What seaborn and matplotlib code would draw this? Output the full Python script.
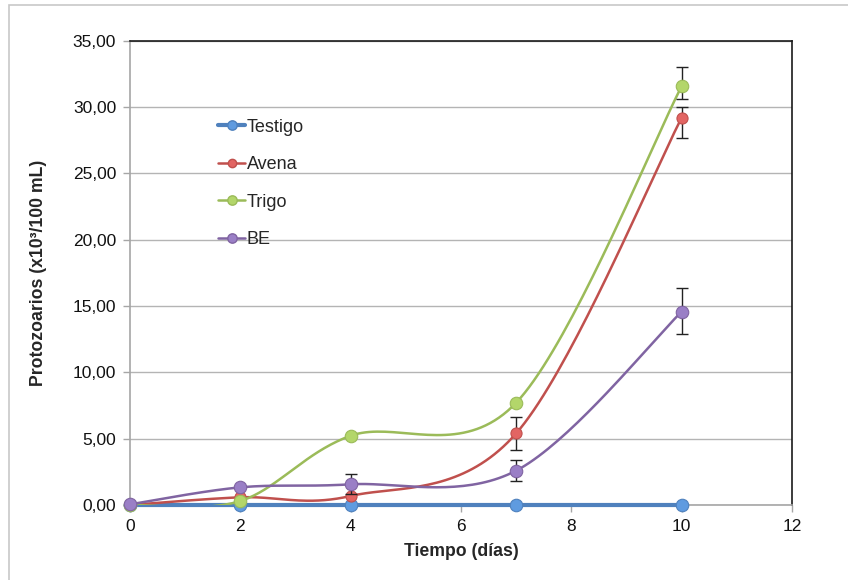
import numpy as np
import pandas as pd
import matplotlib
matplotlib.use("Agg")
import matplotlib.pyplot as plt
import seaborn as sns
from matplotlib.lines import Line2D
from matplotlib.patches import Rectangle
from matplotlib.ticker import FuncFormatter

# Data
dias = [0, 2, 4, 7, 10]
testigo = [0.0, 0.0, 0.0, 0.0, 0.0]
avena = [0.0, 0.58, 0.68, 5.40, 29.19]
trigo = [0.0, 0.30, 5.22, 7.71, 31.57]
be = [0.05, 1.33, 1.56, 2.59, 14.57]

# error bars (lower, upper); zero = no bar
avena_err_lo = [0, 0, 0, 1.25, 1.50]
avena_err_hi = [0, 0, 0, 1.20, 0.80]
trigo_err_lo = [0, 0, 0, 0, 1.00]
trigo_err_hi = [0, 0, 0, 0, 1.43]
be_err_lo = [0, 0, 0.75, 0.78, 1.66]
be_err_hi = [0, 0, 0.75, 0.78, 1.76]

series = ["Testigo", "Avena", "Trigo", "BE"]
valores = [testigo, avena, trigo, be]
err_lo = [None, avena_err_lo, trigo_err_lo, be_err_lo]
err_hi = [None, avena_err_hi, trigo_err_hi, be_err_hi]
line_colors = ["#4F81BD", "#C0504D", "#9BBB59", "#8064A2"]
face_colors = ["#5F9BE0", "#E26563", "#B3D66A", "#9A7FC6"]
line_widths = [3.0, 1.8, 1.8, 1.8]
marker_sizes = [9, 8, 9, 9]


def smooth(xs, ys, n=40):
    # Catmull-Rom style smoothing, like Excel's "smoothed line"
    pts = np.column_stack([xs, ys]).astype(float)
    pts = np.vstack([pts[0], pts, pts[-1]])
    out = []
    t = np.linspace(0, 1, n)
    for i in range(1, len(pts) - 2):
        p0, p1, p2, p3 = pts[i - 1], pts[i], pts[i + 1], pts[i + 2]
        c1 = p1 + (p2 - p0) / 6
        c2 = p2 - (p3 - p1) / 6
        seg = ((1 - t)[:, None] ** 3 * p1 + 3 * ((1 - t) ** 2 * t)[:, None] * c1
               + 3 * ((1 - t) * t ** 2)[:, None] * c2 + (t ** 3)[:, None] * p2)
        out.append(seg if i == 1 else seg[1:])
    out = np.vstack(out)
    return out[:, 0], out[:, 1]


sns.set_style("white")
plt.rcParams["font.family"] = ["Liberation Sans", "DejaVu Sans"]

fig = plt.figure(figsize=(8.48, 5.8), dpi=100)
ax = fig.add_axes([130 / 848, 1 - 505 / 580, (792 - 130) / 848, (505 - 40.7) / 580])

for i, name in enumerate(series):
    sx, sy = smooth(dias, valores[i])
    curve = pd.DataFrame({"x": sx, "y": sy})
    sns.lineplot(data=curve, x="x", y="y", sort=False, estimator=None, ax=ax,
                 color=line_colors[i], linewidth=line_widths[i], zorder=3 + i)
    if name == "Testigo":
        ax.lines[-1].set_clip_on(False)
    if err_lo[i] is not None:
        idx = [k for k in range(len(dias)) if err_lo[i][k] > 0 or err_hi[i][k] > 0]
        ax.errorbar([dias[k] for k in idx], [valores[i][k] for k in idx],
                    yerr=[[err_lo[i][k] for k in idx], [err_hi[i][k] for k in idx]],
                    fmt="none", ecolor="#222222", elinewidth=1, capsize=4,
                    capthick=1, zorder=3 + i)
    pts = pd.DataFrame({"x": dias, "y": valores[i]})
    sns.scatterplot(data=pts, x="x", y="y", ax=ax, s=marker_sizes[i] ** 2,
                    color=face_colors[i], edgecolor=line_colors[i], linewidth=0.8,
                    zorder=3.5 + i, clip_on=False)

ax.set_xlim(0, 12)
ax.set_ylim(0, 35)
ax.set_xticks(range(0, 13, 2))
ax.set_yticks(np.arange(0, 36, 5))
ax.yaxis.set_major_formatter(FuncFormatter(lambda v, p: f"{v:.2f}".replace(".", ",")))
ax.grid(axis="y", color="#B4B4B4", linewidth=1)
ax.grid(axis="x", visible=False)
ax.set_axisbelow(True)

ax.spines["left"].set_color("#A6A6A6")
ax.spines["bottom"].set_color("#A6A6A6")
ax.spines["top"].set_color("#1A1A1A")
ax.spines["right"].set_color("#1A1A1A")
for s in ax.spines.values():
    s.set_linewidth(1.2)
ax.tick_params(axis="both", which="major", direction="out", length=5, width=1,
               color="#A6A6A6", labelsize=12.5, labelcolor="#111111",
               left=True, bottom=True, pad=5)

ax.set_xlabel("Tiempo (días)", fontsize=12.7, fontweight="bold")
ax.set_ylabel("Protozoarios (x10³/100 mL)", fontsize=12.7, fontweight="bold")
ax.xaxis.set_label_coords(0.5, -0.082)
ax.yaxis.set_label_coords(-0.125, 0.5)

handles = [Line2D([0], [0], color=line_colors[i], linewidth=line_widths[i], marker="o",
                  markersize=marker_sizes[i] * 0.75, markerfacecolor=face_colors[i],
                  markeredgecolor=line_colors[i]) for i in range(len(series))]
ax.legend(handles, series, loc="upper left", bbox_to_anchor=(0.133, 0.832),
          frameon=False, fontsize=13, labelspacing=1.13, handlelength=1.5,
          handletextpad=0.1, borderpad=0, borderaxespad=0)

fig.add_artist(Rectangle((9 / 848, -0.1), 2, 1.1 - 5 / 580, transform=fig.transFigure,
                         fill=False, edgecolor="#C8C8C8", linewidth=1.2))

fig.savefig("out.png", dpi=100)
